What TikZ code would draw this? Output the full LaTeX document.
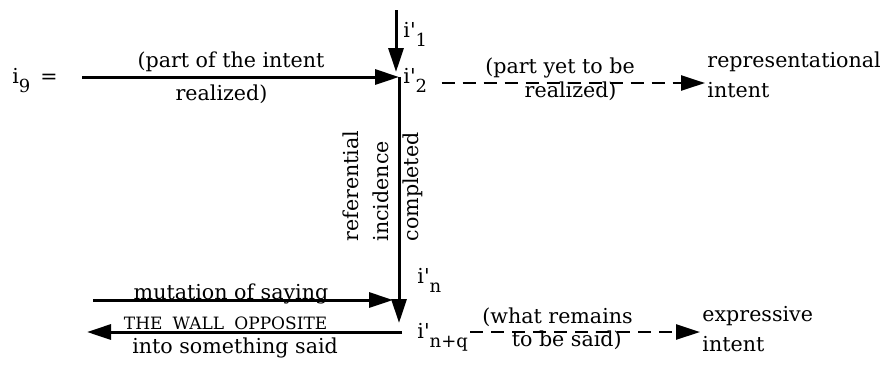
\documentclass[tikz,border=0pt]{standalone}
\usepackage{fontspec}
\setmainfont{DejaVu Serif}
\usepackage{tikz}
\usetikzlibrary{arrows.meta,positioning}

\newcommand{\lowidx}[1]{\raisebox{-0.85ex}{\fontsize{9}{9}\selectfont #1}}
\newcommand{\prm}{\textquotesingle}

\begin{document}
\begin{tikzpicture}[x=0.5pt,y=-0.5pt,
        every node/.style={font=\fontsize{10.3}{15}\selectfont, inner sep=1pt},
        solidFlow/.style={line width=1.5pt, -{Triangle[length=12pt,width=7.5pt]}},
        dashFlow/.style={solidFlow, line width=1.3pt, dash pattern=on 6.5pt off 4pt},
        wallText/.style={font=\fontsize{8.5}{9}\selectfont}]
        \useasboundingbox (0,0) rectangle (881,365);

        \node (iNine) [anchor=base west] at (10,83) {i\lowidx{9}\hspace{5pt}=};
        \node (iOne) [anchor=base west] at (401,37) {i\prm\lowidx{1}};
        \node (iTwo) [anchor=base west] at (401,83) {i\prm\lowidx{2}};
        \node (iN) [anchor=base west] at (415,283) {i\prm\lowidx{n}};
        \node (iNq) [anchor=base west] at (415,338) {i\prm\lowidx{n+q}};
        \node (repIntent) [anchor=west, align=left] at (705,75) {representational\\intent};
        \node (expIntent) [anchor=west, align=left] at (700,329) {expressive\\intent};
        \node (refText) [rotate=90, align=left] at (383,186) {referential\\incidence\\completed};

        \coordinate (topStart) at (396,10);
        \coordinate (topTip) at (396,72);
        \coordinate (lineStart) at (82,77);
        \coordinate (knee) at (399,77);
        \coordinate (foot) at (399,323);
        \coordinate (sayStart) at (93,300);
        \coordinate (sayEnd) at (393,300);
        \coordinate (wallStart) at (402,332);
        \coordinate (wallEnd) at (87,332);

        \draw[solidFlow] (topStart) -- (topTip);
        \draw[solidFlow] (lineStart) -- (knee)
            node [pos=0.47, above=1pt] {(part of the intent}
            node [pos=0.44, below=2pt] {realized)};
        \draw[solidFlow] (knee) -- (foot);
        \draw[dashFlow] ([xshift=6pt]iTwo.base east) -- (iTwo.base east -| repIntent.west)
            node [pos=0.45, above=1pt] {(part yet to be}
            node [pos=0.49, below=-2pt] {realized)};

        \draw[solidFlow] (sayStart) -- (sayEnd)
            node [pos=0.46, anchor=base, yshift=0.5pt] {mutation of saying};
        \draw[solidFlow] (wallStart) -- (wallEnd)
            node [pos=0.56, anchor=base, yshift=1.5pt, wallText] {THE\hspace{0.6em}WALL\hspace{0.6em}OPPOSITE}
            node [pos=0.53, below=1pt] {into something said};
        \draw[dashFlow] ([yshift=3pt]iNq.base east) -- ([yshift=3pt]iNq.base east -| expIntent.west)
            node [pos=0.38, above=1pt] {(what remains}
            node [pos=0.42, below=-2pt] {to be said)};
\end{tikzpicture}
\end{document}
